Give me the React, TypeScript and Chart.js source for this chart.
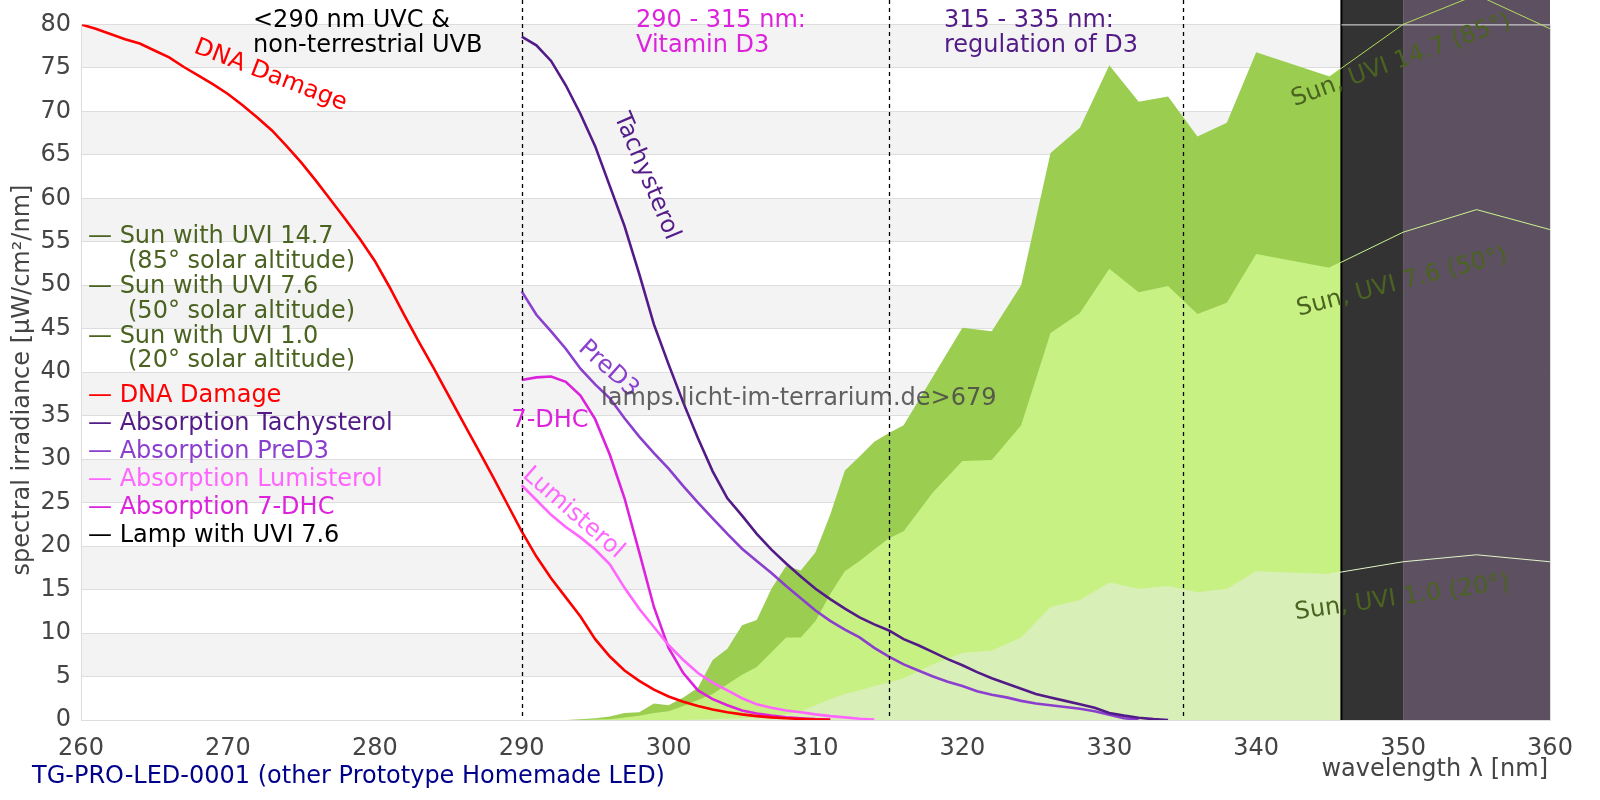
import { useEffect, useRef } from 'react'
import { Chart, registerables } from 'chart.js'

Chart.register(...registerables)

const FONT = '"DejaVu Sans", sans-serif'
const SIZE = 24

// wavelengths in nm, values in µW/cm²/nm (absorption curves share the scale)
const dnaNm = [260, 261, 262, 263, 264, 265, 266, 267, 268, 269, 270, 271, 272, 273, 274, 275, 276, 277, 278, 279, 280, 281, 282, 283, 284, 285, 286, 287, 288, 289, 290, 291, 292, 293, 294, 295, 296, 297, 298, 299, 300, 301, 302, 303, 304, 305, 306, 307, 308, 309, 310, 311]
const dnaDamage = [80.0, 79.5, 78.9, 78.3, 77.8, 77.0, 76.2, 75.1, 74.1, 73.1, 72.0, 70.7, 69.3, 67.8, 66.0, 64.1, 62.0, 59.8, 57.6, 55.3, 52.8, 49.8, 46.6, 43.5, 40.5, 37.4, 34.3, 31.2, 28.1, 24.9, 21.7, 18.8, 16.3, 14.1, 11.9, 9.3, 7.3, 5.7, 4.5, 3.5, 2.7, 2.1, 1.6, 1.2, 0.9, 0.65, 0.45, 0.3, 0.2, 0.12, 0.06, 0.02]

const tachyNm = [290, 291, 292, 293, 294, 295, 296, 297, 298, 299, 300, 301, 302, 303, 304, 305, 306, 307, 308, 309, 310, 311, 312, 313, 314, 315, 316, 317, 318, 319, 320, 321, 322, 323, 324, 325, 326, 327, 328, 329, 330, 331, 332, 333, 334]
const tachysterol = [78.6, 77.6, 75.8, 73.0, 69.7, 66.0, 61.4, 56.8, 51.3, 45.5, 40.9, 36.5, 32.4, 28.6, 25.5, 23.5, 21.4, 19.6, 18.0, 16.5, 15.1, 13.9, 12.8, 11.8, 11.0, 10.3, 9.3, 8.6, 7.8, 7.0, 6.3, 5.5, 4.8, 4.2, 3.6, 3.0, 2.6, 2.2, 1.8, 1.4, 0.8, 0.5, 0.25, 0.1, 0.0]

const preNm = [290, 291, 292, 293, 294, 295, 296, 297, 298, 299, 300, 301, 302, 303, 304, 305, 306, 307, 308, 309, 310, 311, 312, 313, 314, 315, 316, 317, 318, 319, 320, 321, 322, 323, 324, 325, 326, 327, 328, 329, 330, 331, 332]
const preD3 = [49.3, 46.6, 44.7, 42.7, 40.4, 38.6, 37.0, 34.7, 32.6, 30.7, 28.9, 26.9, 25.0, 23.2, 21.4, 19.7, 18.3, 16.9, 15.4, 14.0, 12.6, 11.4, 10.4, 9.5, 8.3, 7.3, 6.4, 5.7, 5.0, 4.4, 3.9, 3.3, 2.9, 2.6, 2.2, 1.9, 1.7, 1.5, 1.3, 1.0, 0.6, 0.2, 0.05]

const lumiNm = [290, 291, 292, 293, 294, 295, 296, 297, 298, 299, 300, 301, 302, 303, 304, 305, 306, 307, 308, 309, 310, 311, 312, 313, 314]
const lumisterol = [27.0, 25.3, 23.6, 22.2, 21.0, 19.6, 17.9, 15.2, 12.8, 10.7, 8.6, 6.9, 5.4, 4.3, 3.4, 2.5, 1.8, 1.4, 1.1, 0.9, 0.65, 0.45, 0.3, 0.15, 0.05]

const dhcNm = [290, 291, 292, 293, 294, 295, 296, 297, 298, 299, 300, 301, 302, 303, 304, 305, 306, 307, 308, 309, 310, 311]
const dhc7 = [39.1, 39.4, 39.5, 38.9, 37.3, 34.6, 30.5, 25.5, 19.3, 13.0, 8.3, 5.4, 3.4, 2.4, 1.7, 1.1, 0.75, 0.5, 0.3, 0.2, 0.1, 0.05]

const sunNm = [293, 294, 295, 296, 297, 298, 299, 300, 301, 302, 303, 304, 305, 306, 307, 308, 309, 310, 311, 312, 313, 314, 315, 316, 318, 320, 322, 324, 326, 328, 330, 332, 334, 336, 338, 340, 345, 350, 355, 360]
const sunUvi147 = [0, 0.1, 0.2, 0.4, 0.8, 0.9, 1.9, 1.7, 2.6, 3.7, 6.9, 8.2, 10.9, 11.5, 15.1, 17.7, 17.2, 19.3, 23.6, 28.7, 30.3, 32.0, 33.0, 33.9, 39.5, 45.1, 44.7, 50.0, 65.2, 68.1, 75.3, 71.1, 71.7, 67.1, 68.7, 76.8, 74.0, 80.0, 83.4, 79.5]
const sunUvi76 = [0, 0, 0.05, 0.1, 0.3, 0.5, 0.8, 1.0, 1.6, 2.3, 3.0, 4.1, 5.2, 6.1, 7.8, 9.5, 9.5, 11.4, 14.5, 17.1, 18.3, 19.6, 20.9, 21.7, 26.2, 29.8, 29.9, 33.9, 44.5, 46.8, 51.9, 49.2, 49.9, 46.7, 48.0, 53.6, 52.0, 56.1, 58.7, 56.4]
const sunUvi10 = [0, 0, 0, 0, 0, 0, 0, 0, 0, 0.05, 0.1, 0.15, 0.2, 0.3, 0.45, 0.65, 1.0, 1.7, 2.4, 3.0, 3.4, 3.9, 4.3, 4.8, 6.4, 7.7, 8.0, 9.5, 13.0, 13.8, 15.8, 15.1, 15.4, 14.7, 15.1, 17.1, 16.8, 18.2, 19.0, 18.2]

// lamp output beyond the plot range, shown as shaded blocks
const shadeFrom = [345.8, 350]
const shadeTo = [350, 360]

// band limits drawn as dashed verticals
const bandEdges = [290, 315, 335]

const pts = (xs: number[], ys: number[]) => xs.map((x, i) => ({ x, y: ys[i] }))

const C = {
  sun: '#4b6321',
  dna: '#ff0000',
  tachy: '#531b87',
  pre: '#8b3fcf',
  lumi: '#ff66ff',
  dhc: '#dd22dd',
  axis: '#444444',
}

function txt(ctx: CanvasRenderingContext2D, s: string, x: number, y: number, color: string, deg = 0, align: CanvasTextAlign = 'left') {
  ctx.save()
  ctx.translate(x, y)
  ctx.rotate((deg * Math.PI) / 180)
  ctx.fillStyle = color
  ctx.textAlign = align
  ctx.textBaseline = 'alphabetic'
  ctx.fillText(s, 0, 0)
  ctx.restore()
}

const decor = {
  id: 'decor',
  beforeDraw(chart: any) {
    const { ctx, chartArea: a } = chart
    const y = chart.scales.y
    ctx.save()
    ctx.fillStyle = '#f3f3f3'
    for (let v = 5; v < 80; v += 10) {
      const t = y.getPixelForValue(v + 5)
      const b = y.getPixelForValue(v)
      ctx.fillRect(a.left, t, a.right - a.left, b - t)
    }
    ctx.restore()
  },
  afterDatasetDraw(chart: any, args: any) {
    if (chart.data.datasets[args.index].key !== 'sunLowFill') return
    const { ctx, chartArea: a } = chart
    const x = chart.scales.x
    const colors = ['#333333', '#5d5161']
    ctx.save()
    shadeFrom.forEach((from, i) => {
      const l = x.getPixelForValue(from)
      const r = x.getPixelForValue(shadeTo[i])
      ctx.fillStyle = colors[i]
      ctx.fillRect(l, 0, r - l, a.bottom)
    })
    const lx = x.getPixelForValue(shadeFrom[0])
    ctx.strokeStyle = '#000'
    ctx.lineWidth = 2
    ctx.beginPath()
    ctx.moveTo(lx, 0)
    ctx.lineTo(lx, a.bottom)
    ctx.stroke()
    ctx.strokeStyle = '#e6e6e6'
    ctx.lineWidth = 1
    ctx.beginPath()
    ctx.moveTo(lx, a.top + 0.5)
    ctx.lineTo(a.right, a.top + 0.5)
    ctx.stroke()
    ctx.restore()
  },
  afterDatasetsDraw(chart: any) {
    const { ctx, chartArea: a } = chart
    const x = chart.scales.x
    ctx.save()
    ctx.strokeStyle = '#000'
    ctx.lineWidth = 1.3
    ctx.setLineDash([4, 4])
    bandEdges.forEach((nm) => {
      const px = Math.round(x.getPixelForValue(nm)) + 0.5
      ctx.beginPath()
      ctx.moveTo(px, 0)
      ctx.lineTo(px, a.bottom)
      ctx.stroke()
    })
    ctx.setLineDash([])
    ctx.strokeStyle = '#dddddd'
    ctx.lineWidth = 1
    ctx.beginPath()
    ctx.moveTo(a.right + 0.5, a.top)
    ctx.lineTo(a.right + 0.5, a.bottom)
    ctx.stroke()
    ctx.restore()
  },
  afterDraw(chart: any) {
    const { ctx } = chart
    const x = chart.scales.x
    const y = chart.scales.y
    const at = (nm: number, v: number) => [x.getPixelForValue(nm), y.getPixelForValue(v)]
    ctx.save()
    ctx.font = `${SIZE}px ${FONT}`

    // band headings
    txt(ctx, '<290 nm UVC &', 253, 27, '#000')
    txt(ctx, 'non-terrestrial UVB', 253, 52, '#000')
    txt(ctx, '290 - 315 nm:', 636, 27, C.dhc)
    txt(ctx, 'Vitamin D3', 636, 52, C.dhc)
    txt(ctx, '315 - 335 nm:', 944, 27, C.tachy)
    txt(ctx, 'regulation of D3', 944, 52, C.tachy)

    // legend
    const legend: [string, string, number, number][] = [
      ['— Sun with UVI 14.7', C.sun, 88, 243],
      ['(85° solar altitude)', C.sun, 128, 268],
      ['— Sun with UVI 7.6', C.sun, 88, 293],
      ['(50° solar altitude)', C.sun, 128, 318],
      ['— Sun with UVI 1.0', C.sun, 88, 343],
      ['(20° solar altitude)', C.sun, 128, 367],
      ['— DNA Damage', C.dna, 88, 402],
      ['— Absorption Tachysterol', C.tachy, 88, 430],
      ['— Absorption PreD3', C.pre, 88, 458],
      ['— Absorption Lumisterol', C.lumi, 88, 486],
      ['— Absorption 7-DHC', C.dhc, 88, 514],
      ['— Lamp with UVI 7.6', '#000', 88, 542],
    ]
    legend.forEach(([s, c, lx, ly]) => txt(ctx, s, lx, ly, c))

    // curve labels
    let p = at(267.6, 76.8)
    txt(ctx, 'DNA Damage', p[0], p[1], C.dna, 21)
    p = at(296.3, 69.4)
    txt(ctx, 'Tachysterol', p[0], p[1], C.tachy, 67)
    p = at(293.8, 42.6)
    txt(ctx, 'PreD3', p[0], p[1], C.pre, 42)
    p = at(289.3, 33.7)
    txt(ctx, '7-DHC', p[0], p[1], C.dhc)
    p = at(290.0, 28.0)
    txt(ctx, 'Lumisterol', p[0], p[1], C.lumi, 41)
    p = at(342.6, 70.6)
    txt(ctx, 'Sun, UVI 14.7 (85°)', p[0], p[1], C.sun, -20)
    p = at(342.9, 46.5)
    txt(ctx, 'Sun, UVI 7.6 (50°)', p[0], p[1], C.sun, -14.5)
    p = at(342.7, 11.6)
    txt(ctx, 'Sun, UVI 1.0 (20°)', p[0], p[1], C.sun, -8)

    txt(ctx, 'lamps.licht-im-terrarium.de>679', 601, 405, 'rgba(70,70,70,0.85)')

    // axis titles and caption
    txt(ctx, 'spectral irradiance [µW/cm²/nm]', 29, 380, C.axis, -90, 'center')
    txt(ctx, 'wavelength λ [nm]', 1548, 776, C.axis, 0, 'right')
    txt(ctx, 'TG-PRO-LED-0001 (other Prototype Homemade LED)', 32, 783, '#00008b')
    ctx.restore()
  },
}

export default function App() {
  const canvasRef = useRef<HTMLCanvasElement>(null)
  const chartRef = useRef<Chart | null>(null)

  useEffect(() => {
    if (!canvasRef.current) return
    if (chartRef.current) chartRef.current.destroy()

    const fill = (key: string, label: string, ys: number[], color: string, order: number) => ({
      key,
      label,
      data: pts(sunNm, ys),
      borderWidth: 0,
      borderColor: color,
      backgroundColor: color,
      fill: 'origin',
      pointRadius: 0,
      order,
    })
    const sunLine = (label: string, ys: number[], color: string, order: number) => ({
      label,
      data: pts(sunNm, ys),
      borderWidth: 1,
      borderColor: color,
      fill: false,
      pointRadius: 0,
      clip: false,
      order,
      segment: {
        borderColor: (s: any) => (s.p1.parsed.x > shadeFrom[0] ? color : 'transparent'),
      },
    })
    const curve = (label: string, xs: number[], ys: number[], color: string, width: number, order: number) => ({
      label,
      data: pts(xs, ys),
      borderWidth: width,
      borderColor: color,
      fill: false,
      pointRadius: 0,
      order,
    })

    chartRef.current = new Chart(canvasRef.current, {
      type: 'line',
      data: {
        datasets: [
          fill('sunHighFill', 'Sun with UVI 14.7', sunUvi147, '#9acd50', 100),
          fill('sunMidFill', 'Sun with UVI 7.6', sunUvi76, '#c7f182', 99),
          fill('sunLowFill', 'Sun with UVI 1.0', sunUvi10, '#d9efb8', 98),
          sunLine('Sun UVI 14.7', sunUvi147, '#b4dc5c', 50),
          sunLine('Sun UVI 7.6', sunUvi76, '#cdf38e', 49),
          sunLine('Sun UVI 1.0', sunUvi10, '#e2f5c8', 48),
          curve('Absorption 7-DHC', dhcNm, dhc7, C.dhc, 2.6, 14),
          curve('Absorption Lumisterol', lumiNm, lumisterol, C.lumi, 2.6, 13),
          curve('Absorption PreD3', preNm, preD3, C.pre, 2.6, 12),
          curve('Absorption Tachysterol', tachyNm, tachysterol, C.tachy, 2.6, 11),
          curve('DNA Damage', dnaNm, dnaDamage, C.dna, 2.6, 10),
        ] as any,
      },
      options: {
        responsive: false,
        animation: false,
        devicePixelRatio: 1,
        layout: { padding: { top: 21, right: 50, left: 0, bottom: 0 } },
        plugins: { legend: { display: false }, tooltip: { enabled: false } },
        elements: { line: { tension: 0 }, point: { radius: 0 } },
        scales: {
          x: {
            type: 'linear',
            min: 260,
            max: 360,
            afterFit: (s: any) => { s.height = 80 },
            ticks: { stepSize: 10, color: C.axis, font: { family: FONT, size: SIZE }, padding: 6, maxRotation: 0 },
            grid: { display: false },
            border: { color: '#dddddd', z: 1 },
          },
          y: {
            min: 0,
            max: 80,
            afterFit: (s: any) => { s.width = 81 },
            ticks: { stepSize: 5, color: C.axis, font: { family: FONT, size: SIZE }, padding: 10 },
            grid: { color: '#dddddd', drawTicks: false },
            border: { color: '#dddddd', z: 1 },
          },
        },
      },
      plugins: [decor],
    })

    return () => {
      if (chartRef.current) {
        chartRef.current.destroy()
        chartRef.current = null
      }
    }
  }, [])

  return (
    <div style={{ position: 'absolute', left: 0, top: 0, width: 1600, height: 800, background: '#fff' }}>
      <canvas ref={canvasRef} width={1600} height={800} />
    </div>
  )
}
